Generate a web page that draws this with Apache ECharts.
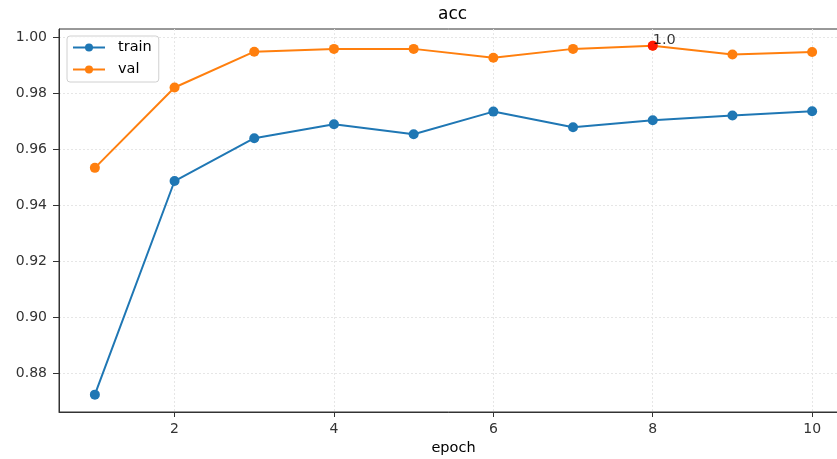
<!DOCTYPE html>
<html><head><meta charset="utf-8">
<script src="https://cdn.jsdelivr.net/npm/echarts@6/dist/echarts.min.js"></script>
<style>html,body{margin:0;padding:0;background:#fff}#c{width:837px;height:459px}</style>
</head><body><div id="c"></div>
<script>
const epochs = [1,2,3,4,5,6,7,8,9,10];
const trainAcc = [0.8724,0.9487,0.9640,0.9690,0.9654,0.9735,0.9679,0.9704,0.9721,0.9736];
const valAcc = [0.9534,0.9821,0.9949,0.9959,0.9959,0.9927,0.9959,0.9970,0.9939,0.9948];
const bestEpoch = 8;
const bestLabel = '1.0';
const xTicks = [2,4,6,8,10];
const yTicks = [0.88,0.90,0.92,0.94,0.96,0.98,1.00];

const font = 'DejaVu Sans';
const chart = echarts.init(document.getElementById('c'), null, {renderer:'canvas'});
const pair = (xs, ys) => xs.map((x,i)=>[x, ys[i]]);
chart.setOption({
  animation:false,
  textStyle:{fontFamily:font},
  title:{text:'acc', left:438, top:6, padding:0, textStyle:{fontFamily:font, fontSize:17, fontWeight:'normal', color:'#000'}},
  grid:{left:59, top:29, width:789, height:383, outerBoundsMode:'none', containLabel:false, show:true, borderColor:'#333', borderWidth:1, backgroundColor:'transparent'},
  legend:{
    left:67, top:36, orient:'vertical', padding:[3,7,4,5], itemGap:5,
    borderColor:'#d0d0d0', borderWidth:1, borderRadius:3, backgroundColor:'rgba(255,255,255,0.8)',
    itemWidth:32, itemHeight:10,
    textStyle:{fontFamily:font, fontSize:14.5, lineHeight:17, color:'#000', padding:[0,0,0,8]},
    data:['train','val']
  },
  xAxis:{
    type:'value', min:0.55, max:10.45,
    name:'epoch', nameLocation:'middle', nameGap:29,
    nameTextStyle:{fontFamily:font, fontSize:14.5, color:'#000'},
    axisLine:{show:true, lineStyle:{color:'#333', width:1}},
    axisTick:{show:true, length:5, customValues:xTicks, lineStyle:{color:'#333'}},
    axisLabel:{customValues:xTicks, fontFamily:font, fontSize:14, color:'#333', margin:10},
    splitLine:{show:true, lineStyle:{color:'#e6e6e6', type:[2,2], width:1}}
  },
  yAxis:{
    type:'value', min:0.8662, max:1.0030,
    axisLine:{show:true, lineStyle:{color:'#333', width:1}},
    axisTick:{show:true, length:6, customValues:yTicks, lineStyle:{color:'#333'}},
    axisLabel:{customValues:yTicks, fontFamily:font, fontSize:14, color:'#333', margin:12, formatter:v=>v.toFixed(2)},
    splitLine:{show:true, lineStyle:{color:'#e6e6e6', type:[2,2], width:1}}
  },
  series:[
    {name:'train', type:'line', data:pair(epochs, trainAcc), symbol:'circle', symbolSize:10,
     itemStyle:{color:'#1f77b4'}, lineStyle:{color:'#1f77b4', width:2}, z:2},
    {name:'val', type:'line', data:pair(epochs, valAcc), symbol:'circle', symbolSize:10,
     itemStyle:{color:'#ff7f0e'}, lineStyle:{color:'#ff7f0e', width:2}, z:3},
    {name:'best', type:'scatter', data:[[bestEpoch, valAcc[epochs.indexOf(bestEpoch)]]], symbol:'circle', symbolSize:10,
     itemStyle:{color:'#ff0000'}, z:4,
     label:{show:true, formatter:bestLabel, position:[5,7], align:'left', verticalAlign:'bottom', fontFamily:font, fontSize:14.5, color:'#000'}}
  ]
});
</script></body></html>
